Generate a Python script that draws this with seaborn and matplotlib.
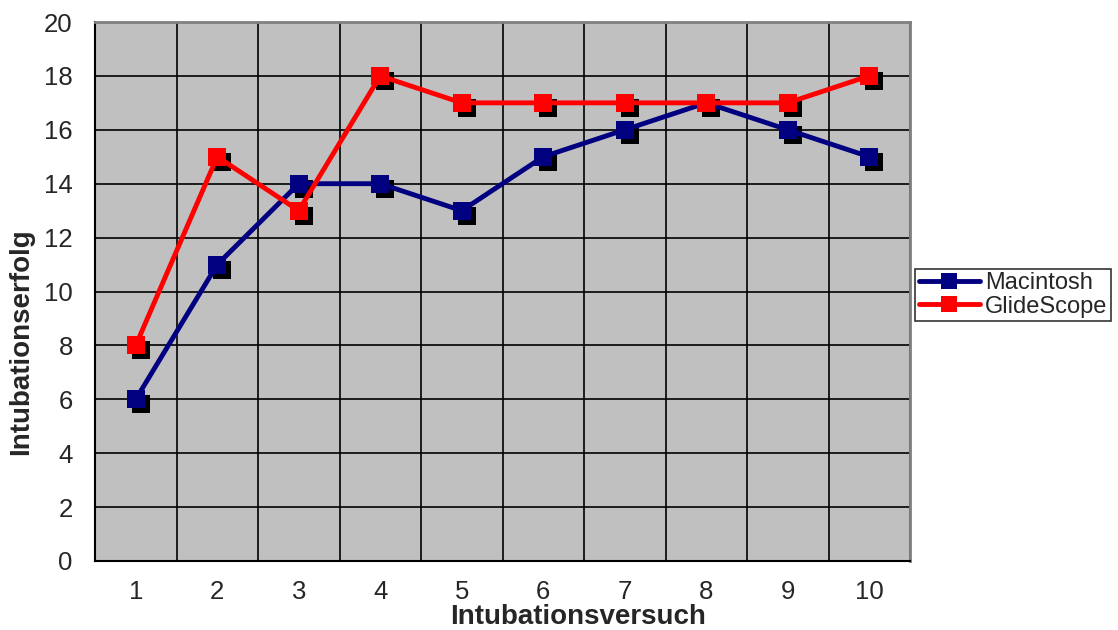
import matplotlib
matplotlib.use("Agg")
import matplotlib.pyplot as plt
import seaborn as sns
import pandas as pd
import numpy as np
from matplotlib.transforms import offset_copy
from matplotlib.ticker import FixedLocator

versuch = [1, 2, 3, 4, 5, 6, 7, 8, 9, 10]
macintosh = [6, 11, 14, 14, 13, 15, 16, 17, 16, 15]
glidescope = [8, 15, 13, 18, 17, 17, 17, 17, 17, 18]
series_names = ["Macintosh", "GlideScope"]
colors = ["#000080", "#FF0000"]

sns.set_style("white")
plt.rcParams['font.family'] = ['Liberation Sans', 'DejaVu Sans']

df = pd.DataFrame({
    "Versuch": versuch * 2,
    "Wert": macintosh + glidescope,
    "Serie": [series_names[0]] * len(versuch) + [series_names[1]] * len(versuch),
})

fig = plt.figure(figsize=(11.18, 6.3), dpi=100)
ax = fig.add_axes([95 / 1118, 69 / 630, 815 / 1118, 539 / 630])
ax.set_facecolor("#C0C0C0")

shadow_tr = offset_copy(ax.transData, fig=fig, x=5, y=-5, units="dots")
for name, vals, col in zip(series_names, [macintosh, glidescope], colors):
    ax.plot(versuch, vals, linestyle="none", marker="s", markersize=13,
            markeredgewidth=0, color="black", transform=shadow_tr, zorder=3)

sns.lineplot(data=df, x="Versuch", y="Wert", hue="Serie", palette=colors,
             marker="s", markersize=13, markeredgewidth=0, linewidth=3.5,
             ax=ax, zorder=4, legend=True)

ax.set_xlim(0.5, 10.5)
ax.set_ylim(0, 20)
ax.set_yticks(np.arange(0, 21, 2))
ax.set_xticks(versuch)
ax.xaxis.set_minor_locator(FixedLocator(np.arange(0.5, 11, 1)))
ax.tick_params(axis="x", which="major", length=0, labelsize=18.5, pad=14)
ax.tick_params(axis="x", which="minor", length=6, width=1.3, color="black", direction="out")
ax.tick_params(axis="y", which="major", length=6, width=1.3, color="black", direction="out",
               labelsize=18.5, pad=10)
ax.yaxis.grid(True, color="black", linewidth=1.2)
ax.xaxis.grid(True, which="minor", color="black", linewidth=1.2)
ax.xaxis.grid(False, which="major")
ax.set_axisbelow(True)

for s in ["left", "bottom"]:
    ax.spines[s].set_color("black")
    ax.spines[s].set_linewidth(1.5)
for s in ["top", "right"]:
    ax.spines[s].set_color("#808080")
    ax.spines[s].set_linewidth(2)

ax.set_xlabel("Intubationsversuch", fontsize=20, fontweight="bold")
ax.set_ylabel("Intubationserfolg", fontsize=20, fontweight="bold")
ax.xaxis.set_label_coords((578 - 95) / 815, (561 - 604) / 539)
ax.yaxis.set_label_coords((34 - 95) / 815, (561 - 342) / 539)

handles, labels = ax.get_legend_handles_labels()
leg = ax.legend(handles, labels, loc="center left", bbox_to_anchor=(915 / 1118, (630 - 295) / 630),
                bbox_transform=fig.transFigure, frameon=True, fancybox=False,
                edgecolor="black", fontsize=17, handlelength=2.6, handletextpad=0.2,
                borderpad=0.15, labelspacing=0.05, borderaxespad=0)
leg.get_frame().set_linewidth(1.2)
for h in leg.legend_handles:
    h.set_markersize(11)

fig.savefig("out.png", dpi=100)
